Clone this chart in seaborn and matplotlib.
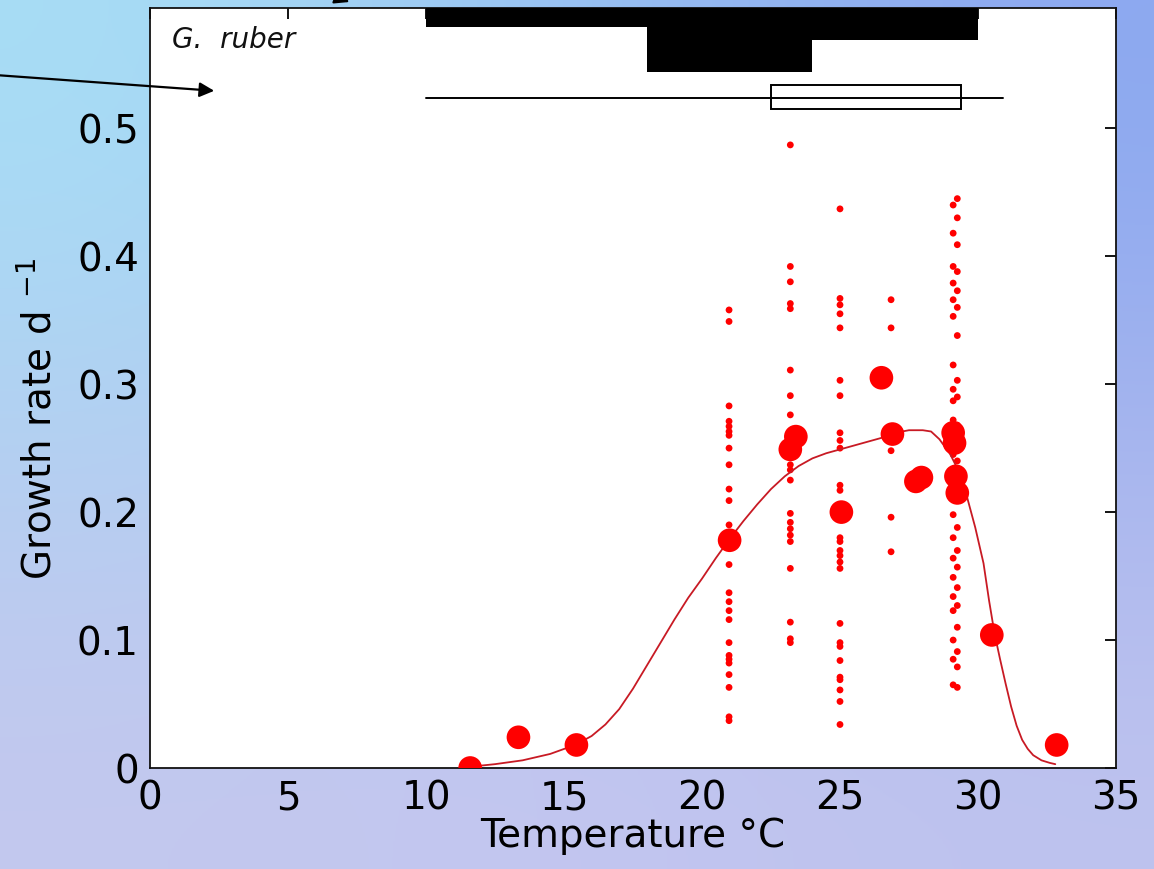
import numpy as np
import pandas as pd
import matplotlib
matplotlib.use("Agg")
import matplotlib.pyplot as plt
from matplotlib.patches import Rectangle, FancyArrowPatch
import seaborn as sns

# ---- data -------------------------------------------------------------
# fitted growth curve (temperature, growth rate)
curve_T = [11.6, 12.5, 13.5, 14.5, 15.4, 16.0, 16.5, 17.0, 17.5, 18.0, 18.5,
           19.0, 19.5, 20.0, 20.5, 21.0, 21.5, 22.0, 22.5, 23.0, 23.5, 24.0,
           24.5, 25.0, 25.5, 26.0, 26.5, 27.0, 27.5, 28.0, 28.3, 28.6, 29.0,
           29.3, 29.6, 29.9, 30.2, 30.4, 30.6, 30.8, 31.0, 31.2, 31.4, 31.6,
           31.8, 32.0, 32.3, 32.6, 32.8]
curve_G = [0.001, 0.003, 0.006, 0.011, 0.018, 0.025, 0.034, 0.046, 0.062, 0.080,
           0.098, 0.116, 0.133, 0.148, 0.164, 0.179, 0.193, 0.206, 0.218, 0.228,
           0.236, 0.242, 0.246, 0.249, 0.252, 0.255, 0.258, 0.262, 0.264, 0.264,
           0.263, 0.257, 0.245, 0.232, 0.212, 0.188, 0.160, 0.131, 0.105, 0.085,
           0.066, 0.048, 0.033, 0.022, 0.015, 0.010, 0.006, 0.004, 0.003]

# treatment means
mean_T = [11.6, 13.35, 15.45, 21.0, 23.2, 23.4, 25.05, 26.5, 26.9, 27.75, 27.95,
          29.1, 29.15, 29.2, 29.25, 30.5, 32.85]
mean_G = [0.000, 0.024, 0.018, 0.178, 0.249, 0.259, 0.200, 0.305, 0.261, 0.224,
          0.227, 0.262, 0.254, 0.228, 0.215, 0.104, 0.018]

# individual measurements, one list per incubation temperature
ind_T21 = 20.98
ind_G21 = [0.358, 0.349, 0.283, 0.271, 0.267, 0.263, 0.260, 0.250, 0.237, 0.218,
           0.209, 0.190, 0.159, 0.137, 0.130, 0.123, 0.116, 0.098, 0.088, 0.085,
           0.082, 0.073, 0.063, 0.040, 0.037]
ind_T23 = 23.2
ind_G23 = [0.487, 0.392, 0.380, 0.363, 0.359, 0.311, 0.291, 0.276, 0.237, 0.233,
           0.225, 0.199, 0.192, 0.187, 0.182, 0.177, 0.156, 0.114, 0.101, 0.098]
ind_T25 = 25.0
ind_G25 = [0.437, 0.367, 0.362, 0.355, 0.344, 0.303, 0.291, 0.262, 0.256, 0.250,
           0.221, 0.217, 0.180, 0.177, 0.170, 0.166, 0.161, 0.156, 0.113, 0.098,
           0.095, 0.084, 0.071, 0.069, 0.061, 0.052, 0.034]
ind_T27 = 26.85
ind_G27 = [0.366, 0.344, 0.248, 0.196, 0.169]
ind_T29a = 29.1
ind_G29a = [0.440, 0.418, 0.392, 0.379, 0.366, 0.353, 0.315, 0.296, 0.287, 0.272,
            0.245, 0.198, 0.180, 0.164, 0.149, 0.134, 0.123, 0.100, 0.085, 0.065]
ind_T29b = 29.25
ind_G29b = [0.445, 0.430, 0.409, 0.388, 0.373, 0.360, 0.338, 0.303, 0.290, 0.268,
            0.240, 0.188, 0.170, 0.157, 0.141, 0.127, 0.110, 0.091, 0.079, 0.063]

# temperature range bars drawn above the data
range_edges = [10, 18, 24, 30]
range_bottom = [0.579, 0.544, 0.569]
whisker_T = [10.0, 30.9]
whisker_G = 0.524
box_T = [22.5, 29.4]
box_G = [0.515, 0.534]

x_ticks = [0, 5, 10, 15, 20, 25, 30, 35]
y_ticks = [0, 0.1, 0.2, 0.3, 0.4, 0.5]
y_tick_labels = ["0", "0.1", "0.2", "0.3", "0.4", "0.5"]

# ---- tables -------------------------------------------------------------
df_curve = pd.DataFrame({"T": curve_T, "G": curve_G})
df_mean = pd.DataFrame({"T": mean_T, "G": mean_G})
ind_groups = [(ind_T21, ind_G21), (ind_T23, ind_G23), (ind_T25, ind_G25),
              (ind_T27, ind_G27), (ind_T29a, ind_G29a), (ind_T29b, ind_G29b)]
df_ind = pd.concat([pd.DataFrame({"T": [t] * len(g), "G": g}) for t, g in ind_groups],
                   ignore_index=True)

# ---- style --------------------------------------------------------------
sns.set_style("white")
plt.rcParams["font.family"] = ["DejaVu Sans"]
plt.rcParams["text.color"] = "black"
plt.rcParams["axes.labelcolor"] = "black"
plt.rcParams["mathtext.fontset"] = "dejavusans"

W, H = 1154, 869
fig = plt.figure(figsize=(W / 100, H / 100), dpi=100)

# slide-style gradient backdrop
bg = fig.add_axes([0, 0, 1, 1], zorder=-10)
grad = np.array([
    [(168, 222, 245), (150, 192, 242), (140, 168, 240)],
    [(178, 208, 242), (178, 196, 240), (165, 180, 238)],
    [(195, 200, 238), (196, 198, 240), (190, 195, 238)],
], dtype=float) / 255.0
bg.imshow(grad, aspect="auto", interpolation="bicubic", extent=[0, 1, 0, 1])
bg.set_axis_off()

ax = fig.add_axes([150 / W, 101 / H, 966 / W, 760 / H])
ax.set_facecolor("white")

# individual points, means and fitted curve
sns.scatterplot(data=df_ind, x="T", y="G", ax=ax, color="#ff0000", s=24,
                marker="o", edgecolor="none", legend=False, zorder=3)
sns.lineplot(data=df_curve, x="T", y="G", ax=ax, color="#c81a24", lw=1.3,
             estimator=None, sort=False, zorder=4)
sns.scatterplot(data=df_mean, x="T", y="G", ax=ax, color="#ff0000", s=290,
                marker="o", edgecolor="none", legend=False, zorder=5)

# range bars
ax.stairs(range_bottom, range_edges, baseline=0.62, fill=True, color="black",
          zorder=6)
ax.plot(whisker_T, [whisker_G, whisker_G], color="black", lw=1.4, zorder=6)
ax.add_patch(Rectangle((box_T[0], box_G[0]), box_T[1] - box_T[0],
                       box_G[1] - box_G[0], fill=False, edgecolor="black",
                       lw=1.4, zorder=6))

ax.text(0.8, 0.5625, "G.  ruber", style="italic", fontsize=20, va="baseline",
        ha="left", color="#111111")

ax.set_xlim(0, 35)
ax.set_ylim(0, 0.594)
ax.set_xticks(x_ticks)
ax.set_yticks(y_ticks)
ax.set_yticklabels(y_tick_labels)
ax.tick_params(direction="in", top=True, right=True, length=8, width=1.3,
               labelsize=28, colors="black", pad=8)
for sp in ax.spines.values():
    sp.set_visible(True)
    sp.set_color("#111111")
    sp.set_linewidth(1.3)

ax.set_xlabel("Temperature \u00b0C", fontsize=28, labelpad=0)
ax.set_ylabel("Growth rate d $^{-1}$", fontsize=28)
ax.yaxis.set_label_coords(-0.095, 0.46)

# callout arrows
fig.add_artist(FancyArrowPatch(
    (-5, 794), (217, 778), transform=None, arrowstyle="-|>",
    mutation_scale=22, lw=1.6, color="black"))
fig.add_artist(FancyArrowPatch(
    (290, 890), (352, 866), transform=None, arrowstyle="-|>",
    mutation_scale=22, lw=1.6, color="black"))

fig.savefig("out.png", dpi=100)
